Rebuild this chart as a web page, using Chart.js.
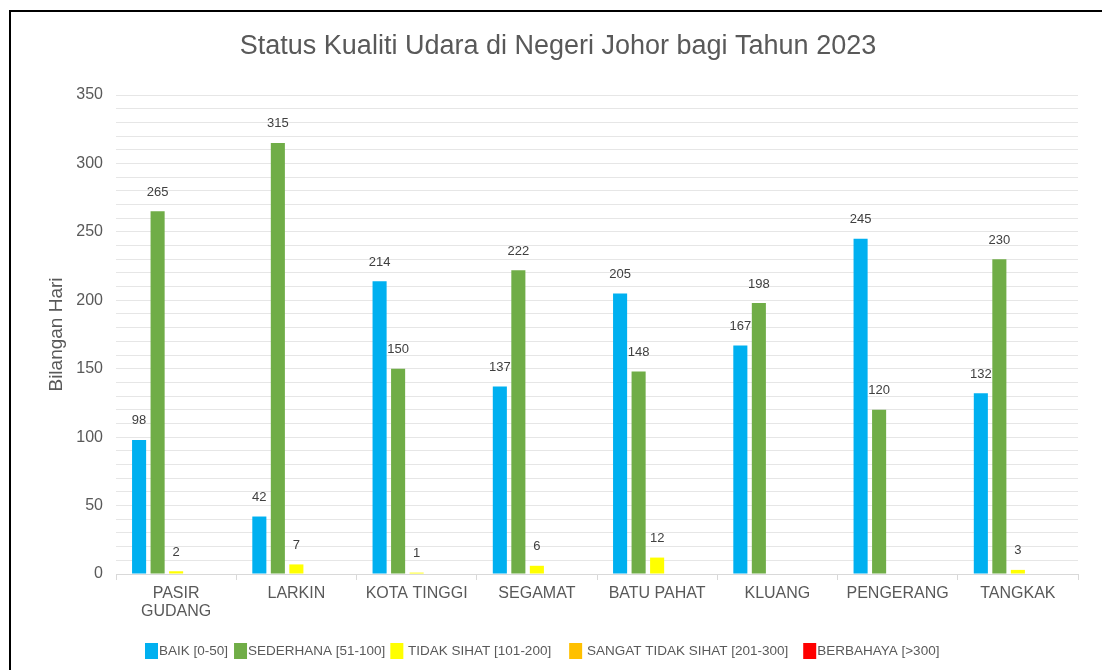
<!DOCTYPE html>
<html><head><meta charset="utf-8">
<script src="https://cdn.jsdelivr.net/npm/chart.js@4"></script>
<style>
html,body{margin:0;padding:0;overflow:hidden;background:#fff}
#wrap{position:relative;width:1102px;height:670px;overflow:hidden}
#frame{position:absolute;left:9px;top:10px;width:1200px;height:800px;border:2px solid #000;box-sizing:border-box;pointer-events:none}
canvas{position:absolute;left:0;top:0}
</style></head>
<body>
<div id="wrap"><canvas id="c" width="1102" height="670"></canvas><div id="frame"></div></div>
<script>
const categories = [['PASIR','GUDANG'], 'LARKIN', 'KOTA TINGGI', 'SEGAMAT', 'BATU PAHAT', 'KLUANG', 'PENGERANG', 'TANGKAK'];
const baik        = [98, 42, 214, 137, 205, 167, 245, 132];
const sederhana   = [265, 315, 150, 222, 148, 198, 120, 230];
const tidakSihat  = [2, 7, 1, 6, 12, 0, 0, 3];
const sangatTidak = [0, 0, 0, 0, 0, 0, 0, 0];
const berbahaya   = [0, 0, 0, 0, 0, 0, 0, 0];
const seriesNames = ['BAIK [0-50]', 'SEDERHANA [51-100]', ' TIDAK SIHAT [101-200]', ' SANGAT TIDAK SIHAT [201-300]', 'BERBAHAYA [>300]'];
const seriesColors = ['#00B0F0', '#70AD47', '#FFFF00', '#FFC000', '#FF0000'];
const yTickLabels = [0, 50, 100, 150, 200, 250, 300, 350];

const FONT = "'Liberation Sans', Arial, sans-serif";
const allSeries = [baik, sederhana, tidakSihat, sangatTidak, berbahaya];

const dataLabels = {
  id: 'dataLabels',
  afterDatasetsDraw(chart) {
    const ctx = chart.ctx;
    ctx.save();
    ctx.font = '13px ' + FONT;
    ctx.fillStyle = '#404040';
    ctx.textAlign = 'center';
    ctx.textBaseline = 'middle';
    chart.data.datasets.forEach((ds, i) => {
      const meta = chart.getDatasetMeta(i);
      meta.data.forEach((el, j) => {
        const v = ds.data[j];
        if (v > 0) ctx.fillText(String(v), el.x, el.y - 19);
      });
    });
    ctx.restore();
  }
};

// legend drawn in the style of the original (box directly followed by text)
const legendGaps = [6, 5, 18, 15, 0];
const customLegend = {
  id: 'customLegend',
  afterDraw(chart) {
    const ctx = chart.ctx;
    ctx.save();
    ctx.font = '13.5px ' + FONT;
    ctx.textBaseline = 'middle';
    ctx.textAlign = 'left';
    let x = 145;
    const yTop = 643, bw = 13, bh = 16;
    chart.data.datasets.forEach((ds, i) => {
      ctx.fillStyle = ds.backgroundColor;
      ctx.fillRect(x, yTop, bw, bh);
      ctx.fillStyle = '#595959';
      ctx.fillText(ds.label, x + bw + 1, yTop + bh / 2 + 0.5);
      x += bw + 1 + ctx.measureText(ds.label).width + legendGaps[i];
    });
    ctx.restore();
  }
};

new Chart(document.getElementById('c'), {
  type: 'bar',
  data: {
    labels: categories,
    datasets: allSeries.map((d, i) => ({
      label: seriesNames[i],
      data: d,
      backgroundColor: seriesColors[i],
      borderWidth: 0,
      categoryPercentage: 0.77,
      barPercentage: 0.76
    }))
  },
  options: {
    responsive: false,
    animation: false,
    devicePixelRatio: 1,
    layout: { padding: { left: 38, right: 24, top: 0, bottom: 37.6 } },
    plugins: {
      title: {
        display: true,
        text: 'Status Kualiti Udara di Negeri Johor bagi Tahun 2023',
        color: '#595959',
        font: { family: FONT, size: 27, weight: 'normal' },
        padding: { top: 30.5, bottom: 32.1 }
      },
      legend: { display: false },
      tooltip: { enabled: false }
    },
    scales: {
      x: {
        grid: { drawOnChartArea: false, drawTicks: true, tickLength: 6, color: '#d9d9d9', offset: true },
        border: { color: '#d9d9d9', width: 1 },
        ticks: { color: '#595959', font: { family: FONT, size: 16, lineHeight: 1.15 }, padding: 4, maxRotation: 0, autoSkip: false },
        afterFit(s) { s.height = 58.4; }
      },
      y: {
        min: 0, max: 350,
        grid: { color: '#e6e6e6', drawTicks: false, lineWidth: 1 },
        border: { display: false },
        ticks: {
          stepSize: 10, autoSkip: false, padding: 13,
          color: '#595959', font: { family: FONT, size: 16 },
          callback: v => yTickLabels.includes(v) ? String(v) : ''
        },
        title: {
          display: true, text: 'Bilangan Hari', color: '#595959',
          font: { family: FONT, size: 19 }, padding: { top: 7.5, bottom: 0 }
        },
        afterFit(s) { s.width = 78; }
      }
    }
  },
  plugins: [dataLabels, customLegend]
});
</script>
</body></html>
